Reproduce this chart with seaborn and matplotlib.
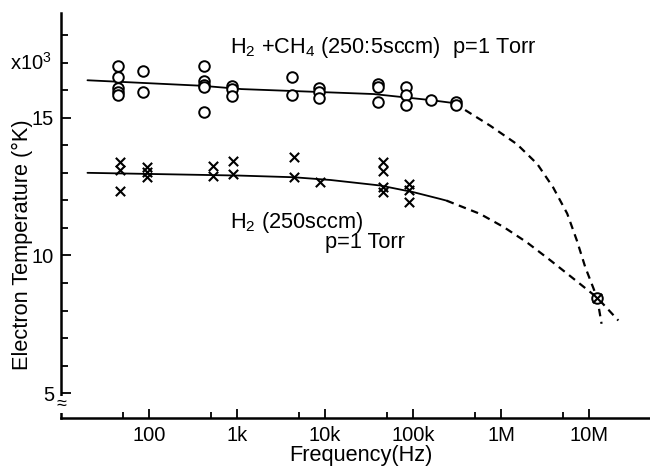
import numpy as np
import pandas as pd
import matplotlib
matplotlib.use('Agg')
import matplotlib.pyplot as plt
import matplotlib.transforms as mtransforms
from matplotlib.ticker import FixedLocator, FixedFormatter, NullFormatter
import seaborn as sns

# H2 + CH4 measurements (open circles), frequency in Hz, Te in 10^3 K
circ_freq = [44, 44, 44, 44, 44, 86, 86,
             420, 420, 420, 420, 420, 870, 870, 870,
             4200, 4200, 8500, 8500, 8500,
             40000, 40000, 40000, 83000, 83000, 83000,
             158000, 310000, 310000, 12300000]
circ_temp = [16.88, 16.47, 16.08, 15.95, 15.83, 16.68, 15.92,
             16.88, 16.32, 16.20, 16.10, 15.19, 16.16, 16.03, 15.80,
             16.49, 15.82, 16.07, 15.92, 15.71,
             16.22, 16.13, 15.56, 16.11, 15.81, 15.45,
             15.64, 15.58, 15.48, 8.47]

# H2 measurements (crosses)
cross_freq = [47, 47, 47, 94, 94, 94, 530, 530, 895, 895,
              4400, 4400, 8700, 45000, 45000, 45000, 45000,
              89000, 89000, 89000, 12300000]
cross_temp = [13.38, 13.10, 12.33, 13.20, 13.03, 12.84, 13.26, 12.90, 13.42, 12.97,
              13.57, 12.84, 12.66, 13.38, 13.08, 12.48, 12.30,
              12.61, 12.39, 11.94, 8.47]

# hand-drawn trend curves
up_solid_f = [20, 400, 1120, 35500, 158000, 309000]
up_solid_t = [16.36, 16.16, 16.04, 15.86, 15.64, 15.52]
up_dash_f = [389000, 750000, 1.51e6, 2.57e6, 3.89e6, 5.62e6, 7.24e6, 9.0e6, 1.23e7, 1.38e7]
up_dash_t = [15.28, 14.71, 14.04, 13.32, 12.47, 11.52, 10.54, 9.58, 8.46, 7.52]

lo_solid_f = [20, 1070, 4370, 11500, 42200, 100000, 204000, 240000]
lo_solid_t = [13.00, 12.90, 12.84, 12.74, 12.54, 12.30, 12.05, 11.99]
lo_dash_f = [240000, 575000, 1.07e6, 1.95e6, 3.63e6, 6.61e6, 1.23e7, 2.14e7]
lo_dash_t = [11.99, 11.51, 11.03, 10.48, 9.82, 9.16, 8.47, 7.64]

x_major = [100, 1e3, 1e4, 1e5, 1e6, 1e7]
x_major_labels = ['100', '1k', '10k', '100k', '1M', '10M']
x_minor = [50, 500, 5e3, 5e4, 5e5, 5e6, 5e7]
y_major = [5, 10, 15]
y_minor = [6, 7, 8, 9, 11, 12, 13, 14, 16, 17, 18]

sns.set_style('ticks')
plt.rcParams['font.family'] = ['Liberation Sans', 'DejaVu Sans']
plt.rcParams['mathtext.default'] = 'regular'
plt.rcParams['text.color'] = 'black'

fig = plt.figure(figsize=(6.5, 4.66), dpi=100)
ax = fig.add_axes([0.0938, 0.103, 0.9062, 0.869])

sns.lineplot(x=up_solid_f, y=up_solid_t, sort=False, estimator=None, color='black', lw=1.3, ax=ax)
sns.lineplot(x=lo_solid_f, y=lo_solid_t, sort=False, estimator=None, color='black', lw=1.3, ax=ax)
sns.lineplot(x=up_dash_f, y=up_dash_t, sort=False, estimator=None, color='black', lw=1.6,
             linestyle=(0, (3.4, 2.5)), ax=ax)
sns.lineplot(x=lo_dash_f, y=lo_dash_t, sort=False, estimator=None, color='black', lw=1.6,
             linestyle=(0, (3.4, 2.5)), ax=ax)

sns.scatterplot(x=circ_freq, y=circ_temp, marker='o', s=58, facecolors='white',
                edgecolor='black', linewidth=1.4, zorder=3, ax=ax)
sns.scatterplot(x=cross_freq, y=cross_temp, marker='x', s=45, color='black',
                linewidth=1.5, zorder=4, ax=ax)

ax.set_xscale('log')
ax.set_xlim(10, 10 ** 7.69)
ax.set_ylim(4.1, 18.8)

ax.xaxis.set_major_locator(FixedLocator(x_major))
ax.xaxis.set_major_formatter(FixedFormatter(x_major_labels))
ax.xaxis.set_minor_locator(FixedLocator(x_minor))
ax.xaxis.set_minor_formatter(NullFormatter())
ax.yaxis.set_major_locator(FixedLocator(y_major))
ax.yaxis.set_minor_locator(FixedLocator(y_minor))

ax.tick_params(axis='both', which='both', direction='in', colors='black',
               labelcolor='black', labelsize=14.5, width=1.3)
ax.tick_params(axis='x', which='major', length=6.5, pad=6)
ax.tick_params(axis='x', which='minor', length=4.3)
ax.tick_params(axis='y', which='major', length=7, pad=5)
ax.tick_params(axis='y', which='minor', length=5)

sns.despine(ax=ax)
for s in ['left', 'bottom']:
    ax.spines[s].set_linewidth(1.8)
    ax.spines[s].set_color('black')

blend = mtransforms.blended_transform_factory(ax.transAxes, ax.transData)
ax.text(-0.015, 17, 'x10$^3$', transform=blend, ha='right', va='center', fontsize=14.5)
ax.text(0, 4.6, '\u2248', transform=blend, ha='center', va='center', fontsize=13,
        bbox=dict(boxstyle='square,pad=0', fc='white', ec='none'))

ax.text(832, 17.35, 'H$_2$ +CH$_4$ (250:5sccm)  p=1 Torr', ha='left', va='baseline', fontsize=15.7)
ax.text(832, 11.0, 'H$_2$ (250sccm)', ha='left', va='baseline', fontsize=15.7)
ax.text(10000, 10.28, 'p=1 Torr', ha='left', va='baseline', fontsize=15.7)

ax.set_xlabel('')
ax.set_ylabel('')
fig.text(361 / 650, 5 / 466, 'Frequency(Hz)', ha='center', va='baseline', fontsize=15.7)
fig.text(22 / 650, 1 - 245 / 466, 'Electron Temperature (\u00b0K)', rotation=90,
         ha='center', va='center', fontsize=15.7)

fig.savefig('out.png', dpi=100)
